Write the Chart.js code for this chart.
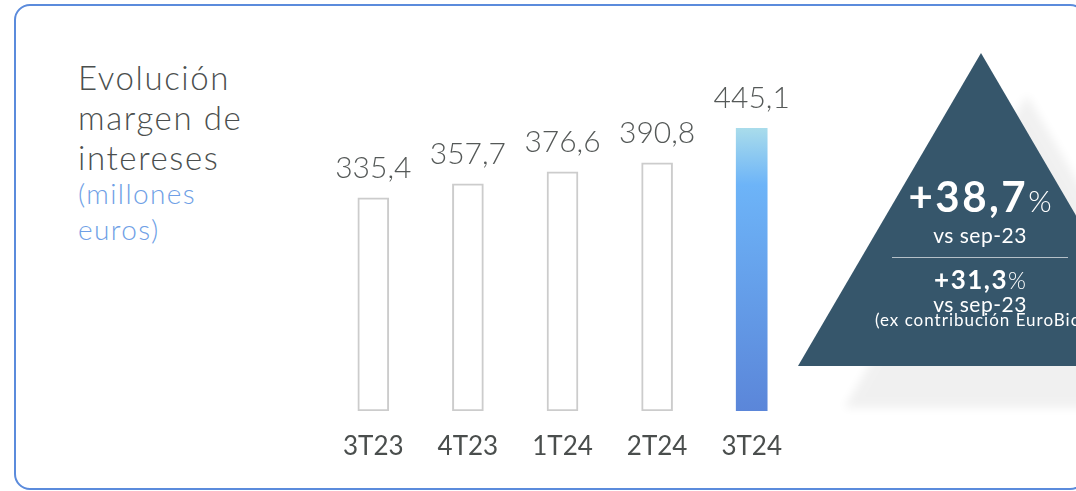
<!DOCTYPE html>
<html lang="es">
<head>
<meta charset="utf-8">
<script src="https://cdn.jsdelivr.net/npm/chart.js@4"></script>
<style>
    body { margin: 0; background: #fff; font-family: Lato, sans-serif; }
    #wrap { position: relative; width: 1076px; height: 491px; overflow: hidden; }
    #card { position: absolute; left: 14px; top: 4px; width: 1068px; height: 482px; border: 2px solid #5b8bdc; border-radius: 16px; }
    #chart { position: absolute; left: 0; top: 0; }
    .title { position: absolute; left: 78px; color: #4b4f4e; font-weight: 300; white-space: nowrap; }
    #t1 { top: 57px; font-size: 33px; line-height: 40px; letter-spacing: 1.6px; }
    #t2 { top: 175px; font-size: 28px; line-height: 36px; letter-spacing: 1.4px; color: #6f9fe6; }
    .badge { position: absolute; left: 860px; width: 240px; text-align: center; color: #fff; white-space: nowrap; line-height: 1.2; }
    .badge .pc { font-weight: 300; letter-spacing: 0; }
</style>
</head>
<body>
<div id="wrap">
    <div id="card"></div>
    <div class="title" id="t1">Evolución<br>margen de<br>intereses</div>
    <div class="title" id="t2">(millones<br>euros)</div>
    <canvas id="chart" width="1076" height="491"></canvas>
    <div class="badge" style="top:171px; font-size:42px; font-weight:700; letter-spacing:2.5px;">+38,7<span class="pc" style="font-size:30px;">%</span></div>
    <div class="badge" style="top:222px; font-size:21px; letter-spacing:0.5px;">vs sep-23</div>
    <div class="badge" style="top:264px; font-size:26px; font-weight:700; letter-spacing:1.5px;">+31,3<span class="pc" style="font-size:23px;">%</span></div>
    <div class="badge" style="top:291px; font-size:21px; letter-spacing:0.5px;">vs sep-23</div>
    <div class="badge" style="top:310px; font-size:17px; letter-spacing:1px;">(ex contribución EuroBic)</div>
</div>

<script>
// DONNÉES
const categories = ['3T23', '4T23', '1T24', '2T24', '3T24'];
const values = [335.4, 357.7, 376.6, 390.8, 445.1];
const valueLabels = ['335,4', '357,7', '376,6', '390,8', '445,1'];

// couleur de la dernière barre (dégradé)
function barFill(context) {
    const i = context.dataIndex;
    if (i !== values.length - 1) return '#ffffff';
    const chart = context.chart;
    const area = chart.chartArea;
    if (!area) return '#6aa6ee';
    const y = chart.scales.y;
    const top = y.getPixelForValue(values[i]);
    const bottom = y.getPixelForValue(0);
    const g = chart.ctx.createLinearGradient(0, top, 0, bottom);
    g.addColorStop(0, '#a9dceb');
    g.addColorStop(0.2, '#6db4f8');
    g.addColorStop(1, '#5b86d9');
    return g;
}

// étiquettes de valeur + triangle
const extras = {
    id: 'extras',
    afterDatasetsDraw(chart) {
        const ctx = chart.ctx;
        const meta = chart.getDatasetMeta(0);
        ctx.save();
        ctx.font = '300 30px Lato, sans-serif';
        ctx.fillStyle = '#555958';
        ctx.textAlign = 'center';
        ctx.textBaseline = 'alphabetic';
        meta.data.forEach((bar, i) => {
            ctx.fillText(valueLabels[i], bar.x, bar.y - 20);
        });
        ctx.restore();

        // triangle avec ombre
        ctx.save();
        ctx.beginPath();
        ctx.moveTo(981, 53);
        ctx.lineTo(1164, 366);
        ctx.lineTo(798, 366);
        ctx.closePath();
        ctx.shadowColor = 'rgba(0,0,0,0.06)';
        ctx.shadowBlur = 10;
        ctx.shadowOffsetX = 46;
        ctx.shadowOffsetY = 42;
        ctx.fillStyle = '#36566b';
        ctx.fill();
        ctx.restore();

        // ligne de séparation
        ctx.save();
        ctx.strokeStyle = '#b5c0c8';
        ctx.lineWidth = 1;
        ctx.beginPath();
        ctx.moveTo(892, 257.5);
        ctx.lineTo(1068, 257.5);
        ctx.stroke();
        ctx.restore();
    }
};

const ctx = document.getElementById('chart').getContext('2d');
new Chart(ctx, {
    type: 'bar',
    data: {
        labels: categories,
        datasets: [{
            data: values,
            backgroundColor: barFill,
            borderColor: (c) => c.dataIndex === values.length - 1 ? 'rgba(0,0,0,0)' : '#cccccc',
            borderWidth: (c) => c.dataIndex === values.length - 1 ? 0 : 2,
            borderSkipped: false,
            barThickness: 31
        }]
    },
    options: {
        responsive: false,
        animation: false,
        layout: { padding: { left: 326, right: 277, top: 0, bottom: 0 } },
        plugins: { legend: { display: false }, tooltip: { enabled: false } },
        scales: {
            y: { display: false, min: 0, max: 647 },
            x: {
                grid: { display: false, drawTicks: false },
                border: { display: false },
                afterFit: (scale) => { scale.height = 80; },
                ticks: {
                    color: '#4a4e4d',
                    padding: 20,
                    font: { family: 'Lato, sans-serif', size: 26 }
                }
            }
        }
    },
    plugins: [extras]
});
</script>
</body>
</html>
